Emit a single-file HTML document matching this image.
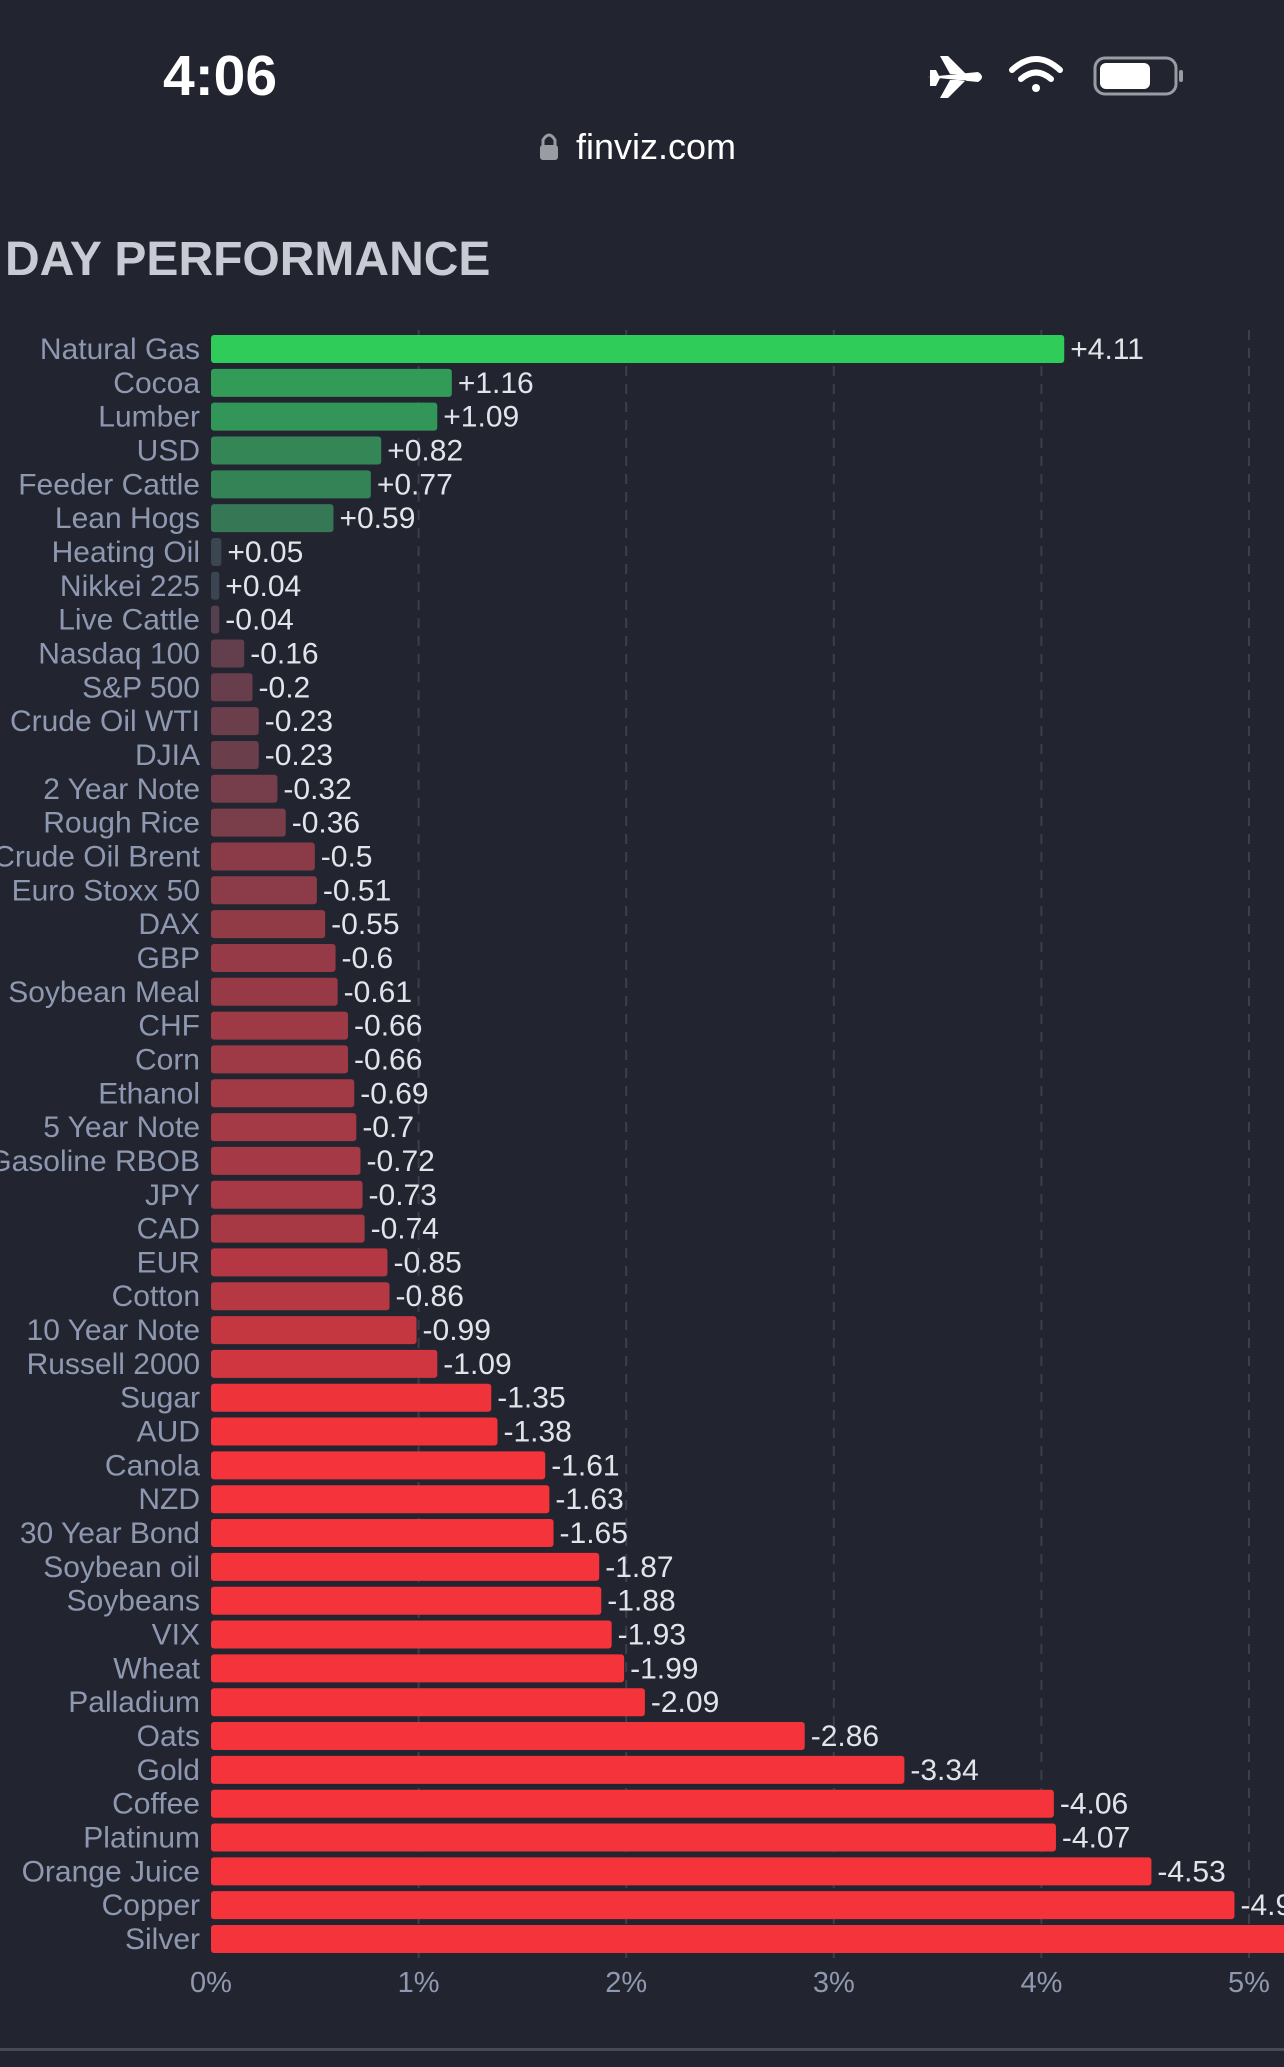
<!DOCTYPE html>
<html><head><meta charset="utf-8"><style>
html,body{margin:0;padding:0;background:#22252f;width:1284px;height:2067px;overflow:hidden;font-family:"Liberation Sans",sans-serif}
#wrap{position:relative;width:1284px;height:2067px}
</style></head><body>
<div id="wrap">
<svg id="svg" width="1284" height="2067" xmlns="http://www.w3.org/2000/svg">
 <text x="163" y="95" font-size="57" font-weight="bold" fill="#ffffff" font-family="Liberation Sans, sans-serif">4:06</text>
 <g fill="#fff">
  <path d="M928 77 L978 72 Q986 77 978 82 L928 77Z M950 74 L940 56 L948 56 L966 74Z M950 80 L940 98 L948 98 L966 80Z M930 70 L936 70 L940 78 L936 86 L930 86Z"/>
 </g>
 <g fill="none" stroke="#fff" stroke-width="6" stroke-linecap="round">
  <path d="M1012 70 Q1036 48 1060 70"/><path d="M1021 79 Q1036 66 1051 79"/>
  <circle cx="1036" cy="88" r="4" fill="#fff" stroke="none"/>
 </g>
 <g>
  <rect x="1095" y="58" width="81" height="36" rx="10" fill="none" stroke="#9a9ca3" stroke-width="3"/>
  <rect x="1100" y="63" width="50" height="26" rx="6" fill="#fff"/>
  <rect x="1179" y="70" width="4" height="12" rx="2" fill="#9a9ca3"/>
 </g>
 <g fill="#9a9ca3">
  <rect x="540" y="145" width="18" height="15" rx="3"/>
  <path d="M543 146 V140 Q549 130 555 140 V146" fill="none" stroke="#9a9ca3" stroke-width="3"/>
 </g>
 <text x="576" y="159" font-size="36" fill="#ffffff">finviz.com</text>
 <text x="5" y="275" font-size="48" font-weight="bold" fill="#c8cad4">DAY PERFORMANCE</text>
 <g id="grid"></g><g id="bars"></g><g id="xaxis"></g>
 <rect x="0" y="2048" width="1284" height="3" fill="#474b58"/>
</svg>
</div>
<script>
const categories=["Natural Gas","Cocoa","Lumber","USD","Feeder Cattle","Lean Hogs","Heating Oil","Nikkei 225","Live Cattle","Nasdaq 100","S&P 500","Crude Oil WTI","DJIA","2 Year Note","Rough Rice","Crude Oil Brent","Euro Stoxx 50","DAX","GBP","Soybean Meal","CHF","Corn","Ethanol","5 Year Note","Gasoline RBOB","JPY","CAD","EUR","Cotton","10 Year Note","Russell 2000","Sugar","AUD","Canola","NZD","30 Year Bond","Soybean oil","Soybeans","VIX","Wheat","Palladium","Oats","Gold","Coffee","Platinum","Orange Juice","Copper","Silver"];
const values=[4.11,1.16,1.09,0.82,0.77,0.59,0.05,0.04,-0.04,-0.16,-0.2,-0.23,-0.23,-0.32,-0.36,-0.5,-0.51,-0.55,-0.6,-0.61,-0.66,-0.66,-0.69,-0.7,-0.72,-0.73,-0.74,-0.85,-0.86,-0.99,-1.09,-1.35,-1.38,-1.61,-1.63,-1.65,-1.87,-1.88,-1.93,-1.99,-2.09,-2.86,-3.34,-4.06,-4.07,-4.53,-4.93,-5.6];
const tickValues=[0,1,2,3,4,5];
const tickLabels=["0%","1%","2%","3%","4%","5%"];
const NS="http://www.w3.org/2000/svg";
const X0=211,PX=207.6,Y0=349,STEP=33.83,BH=28;
const xs=v=>X0+Math.abs(v)*PX;
const ys=i=>Y0+i*STEP;
function mk(t,a){const e=document.createElementNS(NS,t);for(const k in a)e.setAttribute(k,a[k]);return e;}
function lerp(a,b,t){return a.map((c,i)=>Math.round(c+(b[i]-c)*t));}
function color(v){const base=[60,70,80];
 if(v>=0){const t=Math.pow(Math.min(v/1.5,1),0.7);const c=lerp(base,[48,204,90],t);if(v>3)return"rgb(48,204,90)";return`rgb(${c.map((x,i)=>i==1?Math.round(x*0.85):x)})`;}
 const t=Math.min(-v/1.4,1);const c=lerp([80,64,80],[245,51,58],t);return`rgb(${c})`;}
const grid=document.getElementById('grid'),bars=document.getElementById('bars'),xa=document.getElementById('xaxis');
tickValues.forEach((t,i)=>{
 if(t>0){const l=mk('line',{x1:xs(t),x2:xs(t),y1:330,y2:1958,stroke:'#3a3f4c','stroke-width':2,'stroke-dasharray':'10,8'});
 
 grid.appendChild(l);}
 const tx=mk('text',{x:xs(t),y:1992,'font-size':29,fill:'#8e98b0','text-anchor':'middle'});tx.textContent=tickLabels[i];
 
 xa.appendChild(tx);
});
categories.forEach((c,i)=>{
 const y=ys(i),v=values[i];
 const lb=mk('text',{x:200,y:y+10,'font-size':30,fill:'#8e98b0','text-anchor':'end'});lb.textContent=c;
 
 bars.appendChild(lb);
 const w=Math.max(xs(v)-X0,7);
 const r=mk('rect',{x:X0,y:y-BH/2,width:w,height:BH,rx:3,fill:color(v)});
 
 bars.appendChild(r);
 const vt=mk('text',{x:X0+w+6,y:y+10,'font-size':30,fill:'#e2e4ea'});vt.textContent=(v>0?'+':'')+v;
 
 bars.appendChild(vt);
});
</script>
</body></html>
